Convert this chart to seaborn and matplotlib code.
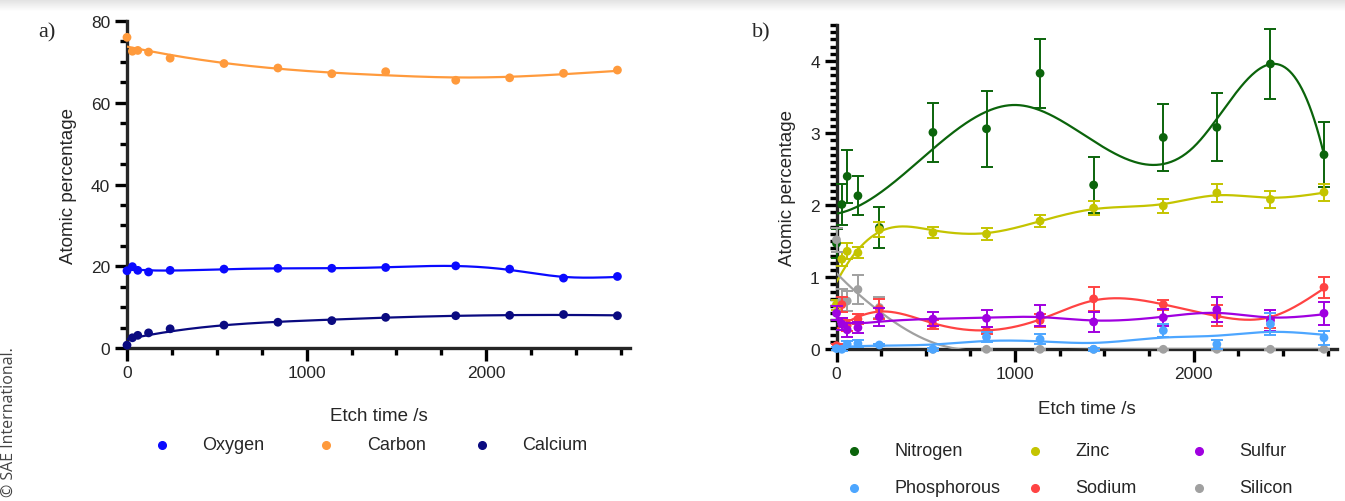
import numpy as np
import pandas as pd
import matplotlib
matplotlib.use("Agg")
import matplotlib.pyplot as plt
from matplotlib.lines import Line2D
from matplotlib.ticker import MultipleLocator
import seaborn as sns

# ---- data -------------------------------------------------------------
etch_time = [0, 30, 60, 120, 240, 540, 840, 1140, 1440, 1830, 2130, 2430, 2730]

# panel a) major elements (atomic %)
oxygen = [18.9, 19.9, 19.0, 18.6, 19.0, 19.3, 19.5, 19.5, 19.7, 20.1, 19.3, 17.1, 17.5]
carbon = [76.0, 72.6, 72.8, 72.4, 70.9, 69.6, 68.5, 67.1, 67.6, 65.5, 66.1, 67.2, 68.0]
calcium = [0.7, 2.5, 3.1, 3.7, 4.7, 5.6, 6.3, 6.7, 7.5, 7.9, 8.0, 8.2, 7.9]

# panel b) minor elements (atomic %) with standard deviations
nitrogen = [1.47, 2.01, 2.40, 2.13, 1.69, 3.01, 3.06, 3.83, 2.28, 2.94, 3.08, 3.96, 2.70]
nitrogen_sd = [0.20, 0.28, 0.37, 0.27, 0.29, 0.41, 0.53, 0.48, 0.39, 0.46, 0.47, 0.49, 0.45]
zinc = [0.62, 1.25, 1.36, 1.34, 1.66, 1.62, 1.60, 1.78, 1.96, 1.99, 2.17, 2.08, 2.18]
zinc_sd = [0.07, 0.10, 0.11, 0.08, 0.10, 0.08, 0.09, 0.08, 0.10, 0.10, 0.13, 0.12, 0.12]
sulfur = [0.50, 0.35, 0.27, 0.30, 0.45, 0.42, 0.43, 0.47, 0.38, 0.44, 0.55, 0.40, 0.50]
sulfur_sd = [0.10, 0.08, 0.10, 0.08, 0.13, 0.10, 0.12, 0.14, 0.14, 0.12, 0.17, 0.14, 0.16]
phosphorous = [0.01, 0.00, 0.07, 0.08, 0.06, 0.00, 0.17, 0.14, 0.00, 0.26, 0.07, 0.35, 0.16]
phosphorous_sd = [0.02, 0.02, 0.04, 0.05, 0.02, 0.02, 0.07, 0.07, 0.02, 0.09, 0.06, 0.15, 0.10]
sodium = [0.05, 0.62, 0.33, 0.42, 0.56, 0.34, 0.26, 0.40, 0.70, 0.62, 0.47, 0.42, 0.86]
sodium_sd = [0.02, 0.10, 0.08, 0.07, 0.14, 0.06, 0.05, 0.09, 0.17, 0.07, 0.15, 0.12, 0.15]
silicon = [1.52, 0.68, 0.67, 0.83, 0.58, 0.00, 0.00, 0.00, 0.00, 0.00, 0.00, 0.00, 0.00]
silicon_sd = [0.17, 0.15, 0.14, 0.20, 0.15, 0.01, 0.01, 0.01, 0.01, 0.01, 0.01, 0.01, 0.01]

x_ticks = [0, 1000, 2000]
x_tick_labels = ["0", "1000", "2000"]


# ---- curve fits -------------------------------------------------------
def penalised_fit(x, y, lam, n=547):
    """Smoothing spline: penalised second differences on a fine grid."""
    x = np.asarray(x, float)
    y = np.asarray(y, float)
    x0, x1 = x.min(), x.max()
    u = (x - x0) / (x1 - x0)
    grid = np.linspace(0, 1, n)
    h = grid[1] - grid[0]
    B = np.zeros((len(u), n))
    for i, ui in enumerate(u):
        k = min(int(ui / h), n - 2)
        f = ui / h - k
        B[i, k] = 1 - f
        B[i, k + 1] = f
    D = np.diff(np.eye(n), 2, axis=0) / h ** 2
    fit = np.linalg.solve(B.T @ B + lam * (D.T @ D), B.T @ y)
    return x0 + grid * (x1 - x0), fit


def knot_fit(x, y, knots, n=400):
    """Least-squares cubic regression spline (truncated power basis)."""
    x = np.asarray(x, float)
    y = np.asarray(y, float)
    span = x.max()

    def basis(xx):
        u = xx / span
        cols = [np.ones_like(u), u, u ** 2, u ** 3]
        cols += [np.clip(u - k / span, 0, None) ** 3 for k in knots]
        return np.column_stack(cols)

    coef, *_ = np.linalg.lstsq(basis(x), y, rcond=None)
    grid = np.linspace(x.min(), x.max(), n)
    return grid, basis(grid) @ coef


def fit_curve(x, y, spec):
    if isinstance(spec, list):
        return knot_fit(x, y, spec)
    return penalised_fit(x, y, spec)


# ---- style ------------------------------------------------------------
sns.set_style("ticks")
plt.rcParams["font.family"] = ["Liberation Sans", "DejaVu Sans"]
plt.rcParams["axes.linewidth"] = 2.4

fig = plt.figure(figsize=(13.45, 5.02), dpi=100)

# page shading along the top edge
bg = fig.add_axes([0, 0, 1, 1], zorder=-10)
bg.set_axis_off()
grad = np.ones((502, 1345))
band = np.linspace(0.88, 1.0, 13)
grad[:13, :] = band[:, None]
bg.imshow(grad, cmap="gray", vmin=0, vmax=1, aspect="auto", extent=[0, 1, 0, 1])
bg.set_xlim(0, 1)
bg.set_ylim(0, 1)

ax_a = fig.add_axes([127 / 1345, 1 - 349 / 502, 503 / 1345, 327 / 502])
ax_b = fig.add_axes([836.5 / 1345, 1 - 350.3 / 502, 500 / 1345, 324.3 / 502])


def style_axis(ax, ymajor, yminor, xpad):
    sns.despine(ax=ax)
    ax.set_xlim(0, 2800)
    ax.xaxis.set_minor_locator(MultipleLocator(250))
    ax.yaxis.set_major_locator(MultipleLocator(ymajor))
    ax.yaxis.set_minor_locator(MultipleLocator(yminor))
    ax.set_xticks(x_ticks)
    ax.set_xticklabels(x_tick_labels)
    ax.tick_params(which="major", length=9, width=2.4, labelsize=12.5, pad=3, color="black")
    ax.tick_params(which="minor", length=5, width=2.4, color="black")
    ax.set_xlabel("Etch time /s", fontsize=13.5, labelpad=xpad)
    ax.set_ylabel("Atomic percentage", fontsize=13.5, labelpad=10)
    ax.set_facecolor("none")


# ---- panel a) ---------------------------------------------------------
panel_a = [("Oxygen", oxygen, "#0a0aff", 1e-7),
           ("Carbon", carbon, "#ff9a3c", 3e-6),
           ("Calcium", calcium, "#0a0a80", 1.5e-6)]
for name, vals, col, spec in panel_a:
    gx, gy = fit_curve(etch_time, vals, spec)
    sns.lineplot(x=gx, y=gy, ax=ax_a, color=col, lw=1.6, zorder=3)
    sns.scatterplot(x=etch_time, y=vals, ax=ax_a, color=col, s=40,
                    edgecolor="none", zorder=4, clip_on=False)
ax_a.set_ylim(0, 80)
style_axis(ax_a, 20, 5, 20)

# ---- panel b) ---------------------------------------------------------
panel_b = [("Nitrogen", nitrogen, nitrogen_sd, "#0b640b", [1000, 2000, 2500]),
           ("Zinc", zinc, zinc_sd, "#c4c400", 7e-8),
           ("Silicon", silicon, silicon_sd, "#a0a0a0", 5e-7),
           ("Sodium", sodium, sodium_sd, "#ff4343", 6e-8),
           ("Sulfur", sulfur, sulfur_sd, "#a000e0", 1.5e-7),
           ("Phosphorous", phosphorous, phosphorous_sd, "#4da6ff", 6e-7)]
for i, (name, vals, sd, col, spec) in enumerate(panel_b):
    z = 3 + i * 0.1
    gx, gy = fit_curve(etch_time, vals, spec)
    sns.lineplot(x=gx, y=gy, ax=ax_b, color=col, lw=1.6, zorder=z)
    ax_b.errorbar(etch_time, vals, yerr=sd, fmt="none", ecolor=col, elinewidth=1.4,
                  capsize=4, capthick=1.4, zorder=z, clip_on=False)
    sns.scatterplot(x=etch_time, y=vals, ax=ax_b, color=col, s=40,
                    edgecolor="none", zorder=z + 0.05, clip_on=False)
ax_b.set_ylim(0, 4.5)
style_axis(ax_b, 1, 0.1, 14)
ax_b.set_yticks([0, 1, 2, 3, 4])

# ---- panel letters ----------------------------------------------------
fig.text(38 / 1345, 1 - 33 / 502, "a)", fontsize=16, family="Liberation Serif", va="center")
fig.text(752 / 1345, 1 - 33 / 502, "b)", fontsize=16, family="Liberation Serif", va="center")

# ---- legends ----------------------------------------------------------
def legend_item(px, py, tx, label, col):
    fig.add_artist(Line2D([px / 1345], [1 - py / 502], marker="o", ms=5.5, color=col,
                          lw=0, transform=fig.transFigure))
    fig.text(tx / 1345, 1 - py / 502, label, fontsize=13, va="center", ha="left")

legend_item(162, 446, 202, "Oxygen", "#0a0aff")
legend_item(326, 446, 367, "Carbon", "#ff9a3c")
legend_item(482, 446, 522, "Calcium", "#0a0a80")

legend_item(854, 452, 895, "Nitrogen", "#0b640b")
legend_item(1035, 452, 1075, "Zinc", "#c4c400")
legend_item(1199, 452, 1239, "Sulfur", "#a000e0")
legend_item(854, 489, 895, "Phosphorous", "#4da6ff")
legend_item(1035, 489, 1075, "Sodium", "#ff4343")
legend_item(1199, 489, 1239, "Silicon", "#a0a0a0")

fig.text(9 / 1345, 1 - 422 / 502, "\u00a9 SAE International.", rotation=90, fontsize=11.5,
         family=["Open Sans", "DejaVu Sans"], color="#444444", va="center", ha="center")

fig.savefig("out.png", dpi=100)
